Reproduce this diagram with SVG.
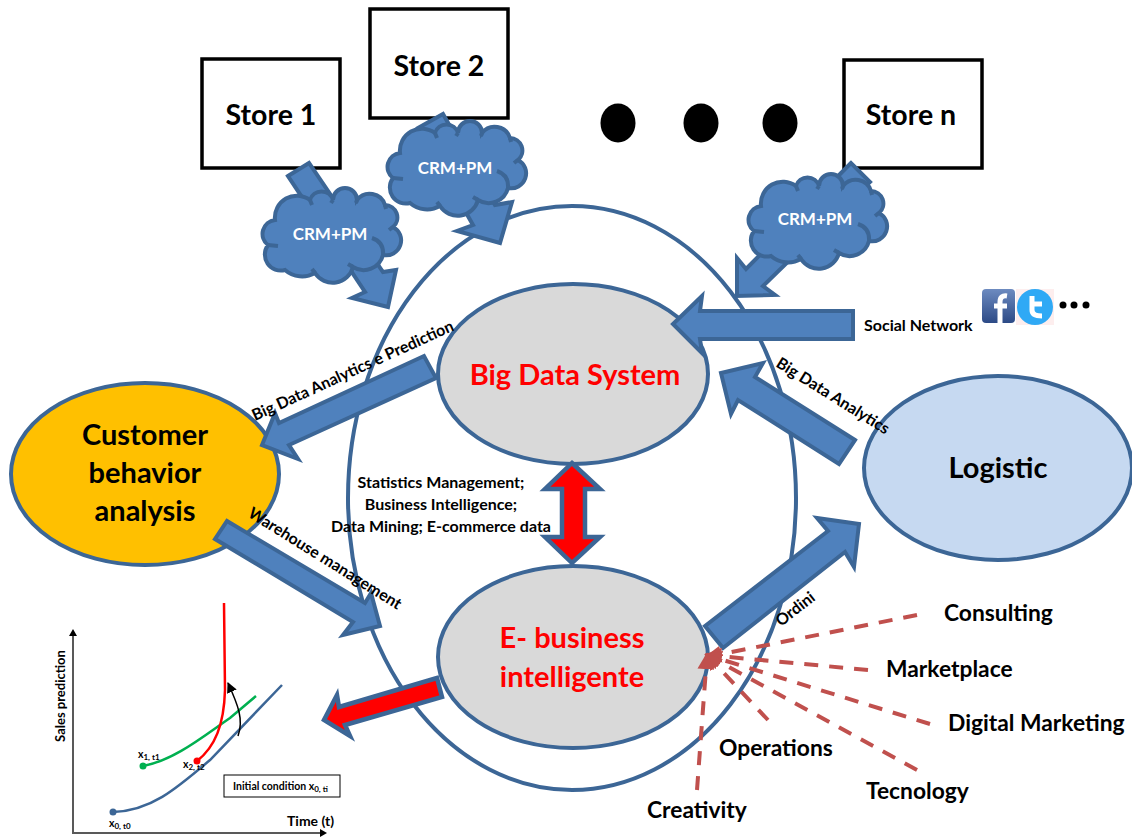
<svg xmlns="http://www.w3.org/2000/svg" width="1132" height="837" viewBox="0 0 1132 837">
<style>
text{font-family:"Lato","Liberation Sans",sans-serif;font-weight:700;fill:#000}
.ell{stroke:#3c6696;stroke-width:4}
.store{fill:#fff;stroke:#000;stroke-width:3.5}
.st{font-size:28.500px;text-anchor:middle}
.big{font-size:29px;text-anchor:middle}
.red{fill:#f00}
.blue{fill:#4f81bd;stroke:#3c6696;stroke-width:4;stroke-linejoin:miter}
.redar{fill:#f00;stroke:#3c6696;stroke-width:4.500}
.lab{font-size:16px}
.out{font-size:22.800px}
.dash{fill:none;stroke:#c0504d;stroke-width:4;stroke-dasharray:14 11;marker-end:url(#hub)}
.cloudtxt{font-size:17px;fill:#fff;text-anchor:middle}
.sm{font-size:10.500px}
.sub{font-size:8px}
.curve{fill:none;stroke-width:2.500}
</style>
<defs>
<marker id="hub" viewBox="0 0 12 12" refX="10" refY="6" markerWidth="17" markerHeight="17" markerUnits="userSpaceOnUse" orient="auto"><path d="M0,0L12,6L0,12Z" fill="#c0504d"/></marker>
<marker id="tipb" viewBox="0 0 10 10" refX="9" refY="5" markerWidth="7" markerHeight="7" orient="auto"><path d="M0,0L10,5L0,10Z" fill="#000"/></marker>
<linearGradient id="fb" x1="0" y1="0" x2="0" y2="1"><stop offset="0" stop-color="#6d8bc0"/><stop offset="1" stop-color="#2c4a86"/></linearGradient>
<g id="cloud">
<path class="blue" d="M13,28A22,22 0 0 1 48,8A12,12 0 0 1 71,8A12,12 0 0 1 95,8A16,16 0 0 1 123,13A12.500,12.500 0 0 1 131,35A15,15 0 0 1 121,63A20,20 0 0 1 91,75A21,21 0 0 1 53,81A26,26 0 0 1 23,78A16,16 0 0 1 6,53A14,14 0 0 1 13,28Z"/>
<path fill="none" stroke="#3c6696" stroke-width="4" d="M110,46Q122,50 121,63M48,8l2,5M71,8l-2,3M95,8l-1,3M123,13l1,4M131,35l-4,3M91,75l-5,-3M53,81l-3,-4M6,53l10,1"/>
</g>
</defs>
<rect width="1132" height="837" fill="#fff"/>
<g id="ring"><ellipse cx="572" cy="498" rx="224" ry="292" fill="none" class="ell"/></g>
<g id="store-1"><rect class="store" x="202" y="59" width="138" height="109"/><text class="st" x="271" y="125">Store 1</text></g>
<g id="store-2"><rect class="store" x="370" y="9" width="138" height="109"/><text class="st" x="439" y="76">Store 2</text></g>
<g id="store-n"><rect class="store" x="844" y="60" width="138" height="108"/><text class="st" x="911" y="125">Store n</text></g>
<g id="ellipsis"><ellipse cx="618" cy="123" rx="17.500" ry="19.500"/><ellipse cx="701" cy="123" rx="17.500" ry="19.500"/><ellipse cx="780" cy="123" rx="17.500" ry="19.500"/></g>
<g id="big-data"><ellipse class="ell" cx="573" cy="374" rx="135" ry="90" fill="#d9d9d9"/><text class="big red" x="575" y="385">Big Data System</text></g>
<g id="e-business"><ellipse class="ell" cx="573" cy="657" rx="135" ry="91" fill="#d9d9d9"/><text class="big red" x="572" y="648">E- business</text><text class="big red" x="572" y="687">intelligente</text></g>
<g id="customer"><ellipse class="ell" cx="145" cy="474" rx="134" ry="91" fill="#ffc000"/><text class="big" x="145" y="445">Customer</text><text class="big" x="145" y="483">behavior</text><text class="big" x="145" y="521">analysis</text></g>
<g id="logistic"><ellipse class="ell" cx="998" cy="468" rx="134" ry="92" fill="#c6d9f1"/><text class="big" x="998" y="478">Logistic</text></g>
<g id="connectors">
<polygon class="blue" points="288,176 309,163 383,272 396,270 388,307 352,298 365,292"/>
<polygon class="blue" points="418,128 443,114 495,205 512,202 500,243 457,231 473,225"/>
<polygon class="blue" points="851,163 746,269 737,258 737,296 775,295 763,286 870,182"/>
<polygon class="blue" points="853,311 700,311 702,296 673,324 702,353 700,339 853,339"/>
<polygon class="blue" points="424,356 279,423 275,413 262,445 298,459 289,445 436,378"/>
<polygon class="blue" points="227,521 365,603 371,593 380,626 343,635 353,622 215,539"/>
<polygon class="blue" points="855,440 755,377 763,363 721,373 731,414 738,400 839,464"/>
<polygon class="blue" points="705,626 828,531 817,518 859,524 854,567 845,552 723,648"/>
<polygon class="redar" points="437,678 339,707 337,695 324,720 350,736 345,725 442,697"/>
<polygon class="redar" points="572,463 600,489 585,489 585,537 600,537 572,563 545,537 562,537 562,489 545,489"/>
<path class="dash" d="M917,615L707,657"/>
<path class="dash" d="M868,670L707,655"/>
<path class="dash" d="M930,724L707,655"/>
<path class="dash" d="M917,770L707,655"/>
<path class="dash" d="M768,720L707,655"/>
<path class="dash" d="M697,790L707,655"/>
</g>
<g id="cloud-1"><use href="#cloud" x="262" y="192"/><text class="cloudtxt" x="330" y="240">CRM+PM</text></g>
<g id="cloud-2"><use href="#cloud" x="387" y="125"/><text class="cloudtxt" x="455" y="174">CRM+PM</text></g>
<g id="cloud-3"><use href="#cloud" x="748" y="178"/><text class="cloudtxt" x="815" y="225">CRM+PM</text></g>
<g id="labels">
<text class="lab" x="864" y="331">Social Network</text>
<text class="lab" transform="translate(775,366) rotate(32)">Big Data Analytics</text>
<text class="lab" transform="translate(255,421) rotate(-24.500)">Big Data Analytics e Prediction</text>
<text class="lab" transform="translate(247,516) rotate(32)">Warehouse management</text>
<text class="lab" transform="translate(781,627) rotate(-38)">Ordini</text>
<text class="lab" text-anchor="middle" x="441" y="488">Statistics Management;</text>
<text class="lab" text-anchor="middle" x="441" y="510">Business Intelligence;</text>
<text class="lab" text-anchor="middle" x="441" y="532">Data Mining; E-commerce data</text>
<text class="out" x="944" y="621">Consulting</text>
<text class="out" x="886" y="677">Marketplace</text>
<text class="out" x="948" y="731">Digital Marketing</text>
<text class="out" x="719" y="756">Operations</text>
<text class="out" x="866" y="799">Tecnology</text>
<text class="out" x="647" y="818">Creativity</text>
</g>
<g id="social-icons">
<rect x="982" y="289" width="33" height="34" rx="4" fill="url(#fb)"/>
<path d="M1007,296Q1000,295 1000,302V323M994,306H1007" fill="none" stroke="#fff" stroke-width="5"/>
<rect x="1016" y="289" width="38" height="36" fill="#fdeeee"/>
<circle cx="1035" cy="307" r="18" fill="#2fa9f5"/>
<path d="M1032,296V310Q1032,316 1042,316M1032,304H1042" fill="none" stroke="#fff" stroke-width="5"/>
<circle cx="1063" cy="305" r="3.500"/><circle cx="1074" cy="305" r="3.500"/><circle cx="1086" cy="305" r="3.500"/>
</g>
<g id="chart">
<path d="M73,633V833H322" fill="none" stroke="#595959" stroke-width="2"/>
<path d="M73,629L77,636H69ZM327,833L320,829V837Z" fill="#000"/>
<path class="curve" stroke="#3c6696" d="M113,812C150,811 175,790 210,760L282,685"/>
<path class="curve" stroke="#00b050" d="M143,766C175,760 205,735 230,718L256,696"/>
<path class="curve" stroke="#f00" d="M197,761C215,747 224,725 225,690L224,603"/>
<path fill="none" stroke="#000" stroke-width="1.500" marker-end="url(#tipb)" d="M238,736C244,720 238,705 228,683"/>
<circle cx="113" cy="812" r="3.500" fill="#3c6696"/><circle cx="143" cy="766" r="3.500" fill="#00b050"/><circle cx="197" cy="761" r="3.500" fill="#f00"/>
<rect x="224" y="775" width="116" height="22" fill="#fff" stroke="#000" stroke-width="1"/>
<text class="sm" x="233" y="790">Initial condition x<tspan class="sub" dy="2">0, ti</tspan></text>
<text transform="translate(65,696) rotate(-90)" text-anchor="middle" style="font-size:13px">Sales prediction</text>
<text x="287" y="826" style="font-size:14px">Time (t)</text>
<text class="sm" x="109" y="827">x<tspan class="sub" dy="2">0, t0</tspan></text>
<text class="sm" x="138" y="758">x<tspan class="sub" dy="2">1, t1</tspan></text>
<text class="sm" x="183" y="768">x<tspan class="sub" dy="2">2, t2</tspan></text>
</g>
</svg>
